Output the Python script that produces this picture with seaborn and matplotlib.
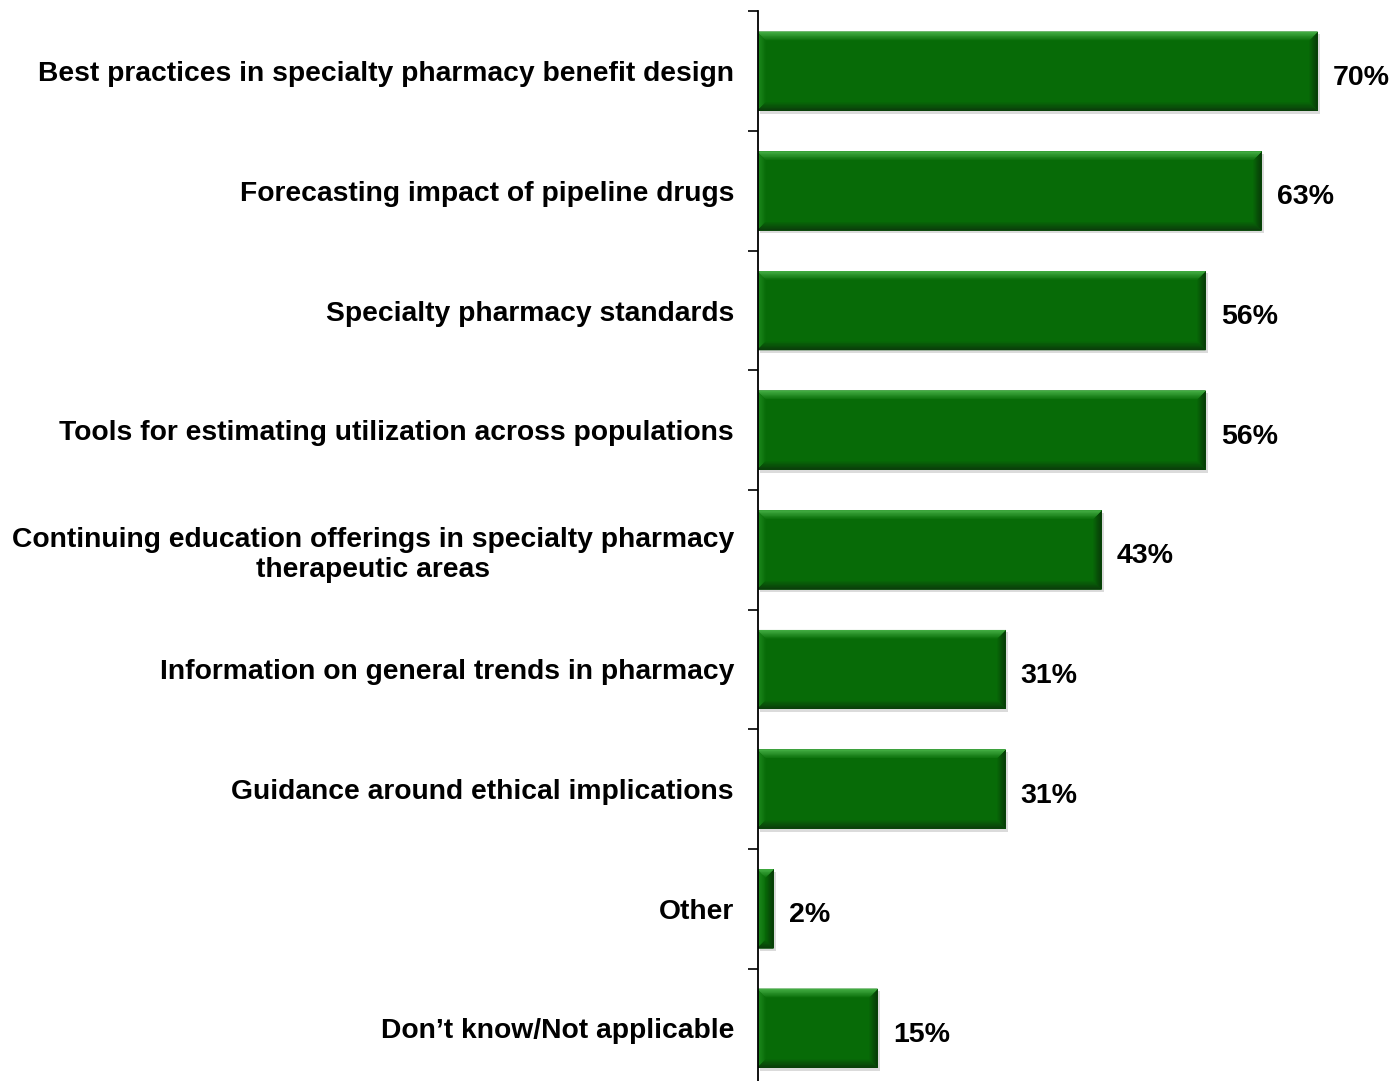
import matplotlib
matplotlib.use("Agg")
import matplotlib.pyplot as plt
from matplotlib.patches import Polygon
import matplotlib.transforms as mtransforms
from matplotlib.colors import to_rgb
import numpy as np
import pandas as pd
import seaborn as sns

categories = [
    "Best practices in specialty pharmacy benefit design",
    "Forecasting impact of pipeline drugs",
    "Specialty pharmacy standards",
    "Tools for estimating utilization across populations",
    "Continuing education offerings in specialty pharmacy\ntherapeutic areas",
    "Information on general trends in pharmacy",
    "Guidance around ethical implications",
    "Other",
    "Don\u2019t know/Not applicable",
]
values = [70, 63, 56, 56, 43, 31, 31, 2, 15]
value_labels = ["70%", "63%", "56%", "56%", "43%", "31%", "31%", "2%", "15%"]

sns.set_theme(style="white")
plt.rcParams["font.family"] = ["Liberation Sans", "DejaVu Sans"]
plt.rcParams["font.weight"] = "bold"

W, H = 1393, 1081
fig = plt.figure(figsize=(W / 100, H / 100), dpi=100)
ax = fig.add_axes([757.5 / W, 0.0, 1 - 757.5 / W, 1 - 11.5 / H])

df = pd.DataFrame({"topic": categories, "share": values})
fill = "#076B07"
sns.barplot(data=df, y="topic", x="share", orient="h", color=fill,
            saturation=1, width=0.66, ax=ax)


def mix(c1, c2, t):
    a, b = np.array(to_rgb(c1)), np.array(to_rgb(c2))
    return tuple(a + (b - a) * t)


# bevelled edges derived from each bar's own geometry
bx, by = 1.0, 0.07
steps = 6
for p in list(ax.patches):
    p.set_edgecolor("none")
    z = p.get_zorder()
    x0, y0 = p.get_x(), p.get_y()
    x1, y1 = x0 + p.get_width(), y0 + p.get_height()
    bxx = min(bx, p.get_width() / 2)
    # soft shadow
    ax.add_patch(Polygon([(x0 + 0.3, y0 + 0.02), (x1 + 0.35, y0 + 0.02),
                          (x1 + 0.35, y1 + 0.025), (x0 + 0.3, y1 + 0.025)],
                         closed=True, fc="#C4C4C4", ec="none", zorder=z - 0.1, alpha=0.6))
    for k in range(steps):
        f = 1 - k / steps
        dx, dy = bxx * f, by * f
        t = (k + 1) / steps
        # left edge (slightly light)
        ax.add_patch(Polygon([(x0, y0), (x0 + dx, y0 + dy), (x0 + dx, y1 - dy), (x0, y1)],
                             closed=True, fc=mix(fill, "#1E8A1E", t), ec="none", zorder=z + 0.1 + k * 0.01))
        # right edge (dark)
        ax.add_patch(Polygon([(x1, y0), (x1, y1), (x1 - dx, y1 - dy), (x1 - dx, y0 + dy)],
                             closed=True, fc=mix(fill, "#073D07", t), ec="none", zorder=z + 0.2 + k * 0.01))
        # top edge (light)
        ax.add_patch(Polygon([(x0, y0), (x1, y0), (x1 - dx, y0 + dy), (x0 + dx, y0 + dy)],
                             closed=True, fc=mix(fill, "#40AA40", t), ec="none", zorder=z + 0.3 + k * 0.01))
        # bottom edge (dark)
        ax.add_patch(Polygon([(x0, y1), (x1, y1), (x1 - dx, y1 - dy), (x0 + dx, y1 - dy)],
                             closed=True, fc=mix(fill, "#0A3F0A", t), ec="none", zorder=z + 0.3 + k * 0.01))

# value labels at the bar ends
for i, (v, lab) in enumerate(zip(values, value_labels)):
    ax.annotate(lab, xy=(v, i), xytext=(11, -2.5), textcoords="offset points",
                ha="left", va="center_baseline", fontsize=20.5, fontweight="bold", color="black")

# axis styling: only the category axis line, with ticks between categories
for s in ["top", "right", "bottom"]:
    ax.spines[s].set_visible(False)
ax.spines["left"].set_color("black")
ax.spines["left"].set_linewidth(1.3)
ax.set_xticks([])
ax.set_xlabel("")
ax.set_ylabel("")
ax.set_yticks(range(len(categories)))
ax.set_yticklabels(categories, fontsize=20.3, fontweight="bold", color="black")
shift = mtransforms.ScaledTranslation(0, -3 / 100, fig.dpi_scale_trans)
for t in ax.get_yticklabels():
    t.set_transform(t.get_transform() + shift)
    if "\n" in t.get_text():
        t.set_multialignment("center")
        t.set_linespacing(1.2)
ax.tick_params(axis="y", which="major", length=0, pad=17)
ax.set_yticks(np.arange(-0.5, len(categories) + 0.5, 1.0), minor=True)
ax.tick_params(axis="y", which="minor", length=7, width=1.2, color="black", left=True)

ax.set_xlim(0, (W - 757.5) / 8.0)
ax.set_ylim(8.44, -0.5)

fig.savefig("out.png", dpi=100)
